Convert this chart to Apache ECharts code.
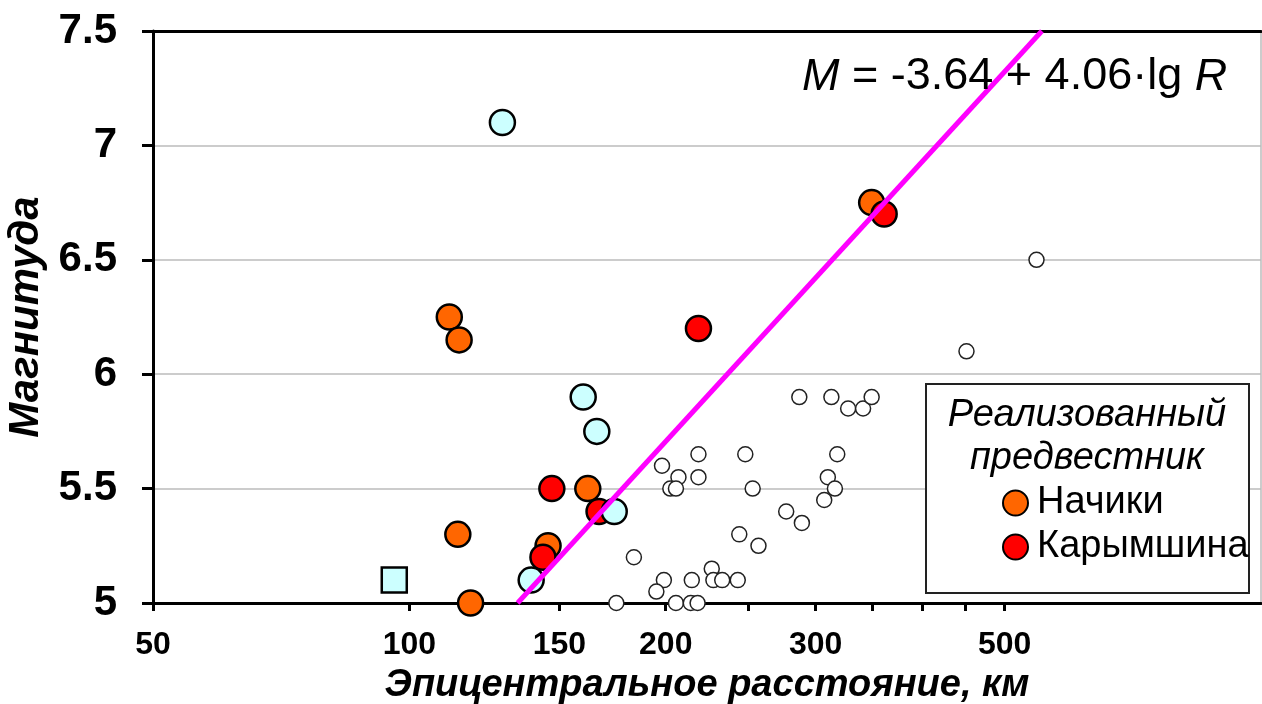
<!DOCTYPE html>
<html>
<head>
<meta charset="utf-8">
<script src="https://cdn.jsdelivr.net/npm/echarts@6/dist/echarts.min.js"></script>
<style>
  html, body { margin: 0; padding: 0; background: #fff; }
  #chart { width: 1262px; height: 704px; }
</style>
</head>
<body>
<div id="chart"></div>
<script>
var font = 'Liberation Sans, Arial, sans-serif'

// эпицентральное расстояние R (км) и магнитуда M
var cyanR = [128.6, 160, 166, 174, 139]
var cyanM = [7.1, 5.9, 5.75, 5.4, 5.1]
var squareR = [96]
var squareM = [5.1]
var nachikiR = [111.4, 114.4, 114, 118, 145.5, 162, 349]
var nachikiM = [6.25, 6.15, 5.3, 5.0, 5.25, 5.5, 6.75]
var karymR = [147, 143.5, 167, 218.5, 361]
var karymM = [5.5, 5.2, 5.4, 6.2, 6.7]
var otherR = [287, 313, 327.5, 341, 349, 218.5, 248, 318, 198, 207, 218.5, 202.5, 205.6, 253, 310, 316, 307,
  277, 289, 244, 257, 183.5, 226.5, 199, 214.6, 227.5, 233, 243, 195, 175, 205.6, 214, 218, 451, 545]
var otherM = [5.9, 5.9, 5.85, 5.85, 5.9, 5.65, 5.65, 5.65, 5.6, 5.55, 5.55, 5.5, 5.5, 5.5, 5.55, 5.5, 5.45,
  5.4, 5.35, 5.3, 5.25, 5.2, 5.15, 5.1, 5.1, 5.1, 5.1, 5.1, 5.05, 5.0, 5.0, 5.0, 5.0, 6.1, 6.5]
// линия M = -3.64 + 4.06·lg R (концы)
var lineR = [134, 553]
var lineM = [5, 7.5]
var xLabelValues = [50, 100, 150, 200, 300, 500]
var xTickValues = [50, 100, 150, 200, 250, 300, 350, 400, 450, 500]

function pairs (xs, ys) {
  return xs.map(function (x, i) { return [x, ys[i]] })
}

var myChart = echarts.init(document.getElementById('chart'))
var option = {
  animation: false,
  grid: {
    left: 153,
    right: 1,
    top: 31,
    bottom: 101,
    show: true,
    borderColor: '#999',
    borderWidth: 1,
    outerBoundsMode: 'none'
  },
  legend: {
    data: ['Начики', 'Карымшина'],
    orient: 'vertical',
    left: 1002,
    top: 483,
    padding: 0,
    itemWidth: 25,
    itemHeight: 25,
    itemGap: 4,
    icon: 'circle',
    textStyle: { fontSize: 38, lineHeight: 40, color: '#000', fontFamily: font, padding: [0, 0, 0, 4] },
    z: 6
  },
  graphic: [
    {
      type: 'rect',
      shape: { x: 926, y: 384, width: 323, height: 209 },
      style: { fill: '#fff', stroke: '#222', lineWidth: 2 },
      z: 5
    },
    {
      type: 'text',
      x: 1087,
      y: 415,
      style: { text: 'Реализованный', fontSize: 38, fontStyle: 'italic', fontFamily: font, fill: '#000', align: 'center', verticalAlign: 'middle' },
      z: 6
    },
    {
      type: 'text',
      x: 1087,
      y: 458,
      style: { text: 'предвестник', fontSize: 38, fontStyle: 'italic', fontFamily: font, fill: '#000', align: 'center', verticalAlign: 'middle' },
      z: 6
    },
    {
      type: 'text',
      x: 802,
      y: 77,
      style: {
        text: '{i|M} = -3.64 + 4.06·lg {i|R}',
        fontSize: 45,
        fontFamily: font,
        fill: '#000',
        verticalAlign: 'middle',
        rich: { i: { fontSize: 45, fontStyle: 'italic', fontFamily: font, fill: '#000' } }
      },
      z: 6
    }
  ],
  xAxis: [
    {
      type: 'log',
      logBase: 10,
      min: 50,
      max: 1000,
      position: 'bottom',
      axisLine: { show: true, onZero: false, lineStyle: { color: '#000', width: 3 } },
      axisTick: { show: true, inside: false, length: 8, customValues: xTickValues, lineStyle: { color: '#000', width: 3 } },
      axisLabel: {
        customValues: xLabelValues,
        fontSize: 32,
        fontWeight: 'bold',
        color: '#000',
        fontFamily: font,
        margin: 26,
        formatter: function (v) { return String(Math.round(v)) }
      },
      minorTick: { show: false },
      splitLine: { show: false },
      name: 'Эпицентральное расстояние, км',
      nameLocation: 'middle',
      nameGap: 64,
      nameTextStyle: { fontSize: 38, fontWeight: 'bold', fontStyle: 'italic', color: '#000', fontFamily: font }
    },
    {
      type: 'value',
      position: 'top',
      min: 0,
      max: 1,
      axisLine: { show: true, onZero: false, lineStyle: { color: '#000', width: 3 } },
      axisTick: { show: false },
      axisLabel: { show: false },
      splitLine: { show: false }
    }
  ],
  yAxis: {
    type: 'value',
    min: 5,
    max: 7.5,
    interval: 0.5,
    axisLine: { show: true, onZero: false, lineStyle: { color: '#000', width: 3 } },
    axisTick: { show: true, inside: false, length: 11, lineStyle: { color: '#000', width: 3 } },
    axisLabel: {
      fontSize: 42,
      fontWeight: 'bold',
      color: '#000',
      fontFamily: font,
      margin: 36,
      formatter: function (v) { return String(v) }
    },
    splitLine: { show: true, lineStyle: { color: '#bbb', width: 1.5 } },
    name: 'Магнитуда',
    nameLocation: 'middle',
    nameGap: 104,
    nameTextStyle: { fontSize: 42, fontWeight: 'bold', fontStyle: 'italic', color: '#000', fontFamily: font }
  },
  series: [
    {
      name: 'Прочие',
      type: 'scatter',
      symbol: 'circle',
      symbolSize: 15,
      itemStyle: { color: '#fff', borderColor: '#222', borderWidth: 1.5, opacity: 1 },
      data: pairs(otherR, otherM)
    },
    {
      name: 'Начики',
      type: 'scatter',
      symbol: 'circle',
      symbolSize: 25,
      itemStyle: { color: '#ff6600', borderColor: '#000', borderWidth: 2.5, opacity: 1 },
      data: pairs(nachikiR, nachikiM)
    },
    {
      name: 'Карымшина',
      type: 'scatter',
      symbol: 'circle',
      symbolSize: 25,
      itemStyle: { color: '#ff0000', borderColor: '#000', borderWidth: 2.5, opacity: 1 },
      data: pairs(karymR, karymM)
    },
    {
      name: 'Нереализованный',
      type: 'scatter',
      symbol: 'circle',
      symbolSize: 25,
      itemStyle: { color: '#ccffff', borderColor: '#000', borderWidth: 2.5, opacity: 1 },
      data: pairs(cyanR, cyanM)
    },
    {
      name: 'Квадрат',
      type: 'scatter',
      symbol: 'rect',
      symbolSize: 25,
      itemStyle: { color: '#ccffff', borderColor: '#000', borderWidth: 2.5, opacity: 1 },
      data: pairs(squareR, squareM)
    },
    {
      name: 'Регрессия',
      type: 'line',
      symbol: 'none',
      z: 3,
      lineStyle: { color: '#ff00ff', width: 5 },
      data: pairs(lineR, lineM)
    }
  ]
}
option && myChart.setOption(option)
</script>
</body>
</html>
